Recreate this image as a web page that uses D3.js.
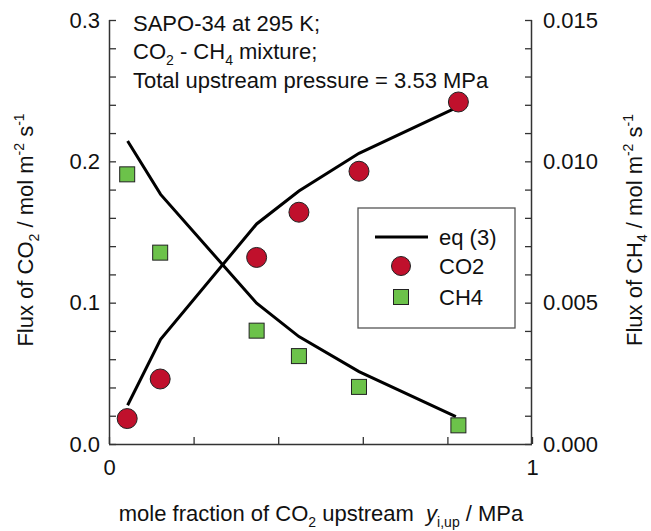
<!DOCTYPE html>
<html>
<head>
<meta charset="utf-8">
<script src="https://cdn.jsdelivr.net/npm/d3@7"></script>
<style>
  body { margin: 0; background: #fff; }
  text { font-family: "Liberation Sans", Arial, sans-serif; }
</style>
</head>
<body>
<div class="chart"></div>
<script>
// mole fraction of CO2 upstream (measured points)
var xData = [0.043, 0.121, 0.349, 0.449, 0.591, 0.826];
var co2Flux = [0.018, 0.046, 0.132, 0.164, 0.193, 0.242];
var ch4Flux = [0.00954, 0.00677, 0.00401, 0.00311, 0.00202, 0.00066];
// eq (3) curves
var xFit = [0.044, 0.122, 0.349, 0.449, 0.591, 0.82];
var co2Fit = [0.0274, 0.0741, 0.1557, 0.179, 0.2057, 0.2378];
var ch4Fit = [0.01072, 0.00883, 0.00498, 0.0038, 0.00256, 0.00097];

var xTicks = [0, 0.2, 0.4, 0.6, 0.8, 1];
var yLeftTicks = d3.range(0, 0.3001, 0.02);
var yRightTicks = d3.range(0, 0.01501, 0.001);
var legendLabels = ["eq (3)", "CO2", "CH4"];

var red = "#c0102c", green = "#6cc24a", axisColor = "#333";

var svg = d3.select(".chart").append("svg")
  .attr("width", 651).attr("height", 531);

var x = d3.scaleLinear().domain([0, 1]).range([109, 532]);
var yL = d3.scaleLinear().domain([0, 0.3]).range([444, 20]);
var yR = d3.scaleLinear().domain([0, 0.015]).range([444, 20]);

function near(v, step) { return Math.abs(v / step - Math.round(v / step)) < 1e-6; }

// axes
var gx = svg.append("g").attr("transform", "translate(0,444)")
  .call(d3.axisBottom(x).tickValues(xTicks).tickSize(-7).tickPadding(15)
    .tickFormat(d => (d === 0 || d === 1) ? d : ""));
var gl = svg.append("g").attr("transform", "translate(109,0)")
  .call(d3.axisLeft(yL).tickValues(yLeftTicks).tickSize(-7).tickPadding(9)
    .tickFormat(d => near(d, 0.1) ? d3.format(".1f")(d) : ""));
var gr = svg.append("g").attr("transform", "translate(532,0)")
  .call(d3.axisRight(yR).tickValues(yRightTicks).tickSize(-7).tickPadding(11)
    .tickFormat(d => near(d, 0.005) ? d3.format(".3f")(d) : ""));

[gx, gl, gr].forEach(function(g) {
  g.select(".domain").attr("stroke", axisColor).attr("stroke-width", 1.5);
  g.selectAll(".tick line").attr("stroke", axisColor).attr("stroke-width", 1.3);
  g.selectAll(".tick text").attr("font-size", 22).attr("fill", "#111")
    .attr("font-family", "Liberation Sans, Arial, sans-serif");
});
// plain axis lines, no top border
gx.select(".domain").attr("d", "M109,0.5H532");
gl.select(".domain").attr("d", "M0.5,20V444");
gr.select(".domain").attr("d", "M-0.5,20V444");

// fit lines
var lineL = d3.line().x((d, i) => x(xFit[i])).y(d => yL(d));
var lineR = d3.line().x((d, i) => x(xFit[i])).y(d => yR(d));
svg.append("path").attr("d", lineL(co2Fit)).attr("fill", "none")
  .attr("stroke", "#000").attr("stroke-width", 3);
svg.append("path").attr("d", lineR(ch4Fit)).attr("fill", "none")
  .attr("stroke", "#000").attr("stroke-width", 3);

// markers
svg.selectAll(".co2").data(co2Flux).enter().append("circle")
  .attr("cx", (d, i) => x(xData[i])).attr("cy", d => yL(d)).attr("r", 10)
  .attr("fill", red).attr("stroke", "#222").attr("stroke-width", 1);
svg.selectAll(".ch4").data(ch4Flux).enter().append("rect")
  .attr("x", (d, i) => x(xData[i]) - 7.5).attr("y", d => yR(d) - 7.5)
  .attr("width", 15).attr("height", 15)
  .attr("fill", green).attr("stroke", "#222").attr("stroke-width", 1);

// annotation
var ann = svg.append("text").attr("font-size", 22).attr("fill", "#111");
ann.append("tspan").attr("x", 133).attr("y", 31).text("SAPO-34 at 295 K;");
var l2 = ann.append("tspan").attr("x", 133).attr("y", 59);
l2.append("tspan").text("CO");
l2.append("tspan").attr("font-size", 14).attr("dy", 6).text("2");
l2.append("tspan").attr("dy", -6).text(" - CH");
l2.append("tspan").attr("font-size", 14).attr("dy", 6).text("4");
l2.append("tspan").attr("dy", -6).text(" mixture;");
ann.append("tspan").attr("x", 133).attr("y", 88).text("Total upstream pressure = 3.53 MPa");

// legend
svg.append("rect").attr("x", 358).attr("y", 208).attr("width", 157).attr("height", 120)
  .attr("fill", "#fff").attr("stroke", "#555").attr("stroke-width", 1.3);
svg.append("line").attr("x1", 375).attr("x2", 428).attr("y1", 237).attr("y2", 237)
  .attr("stroke", "#000").attr("stroke-width", 3);
svg.append("circle").attr("cx", 401).attr("cy", 266).attr("r", 9.5)
  .attr("fill", red).attr("stroke", "#222");
svg.append("rect").attr("x", 393.5).attr("y", 289.5).attr("width", 15).attr("height", 15)
  .attr("fill", green).attr("stroke", "#222");
[237, 266, 297].forEach(function(yy, i) {
  svg.append("text").attr("x", 439).attr("y", yy).attr("dy", "0.35em")
    .attr("font-size", 22).attr("fill", "#111").text(legendLabels[i]);
});

// axis titles
var tl = svg.append("text").attr("transform", "translate(33,230) rotate(-90)")
  .attr("text-anchor", "middle").attr("font-size", 22).attr("fill", "#111");
tl.append("tspan").text("Flux of CO");
tl.append("tspan").attr("font-size", 14).attr("dy", 6).text("2");
tl.append("tspan").attr("dy", -6).text(" / mol m");
tl.append("tspan").attr("font-size", 14).attr("dy", -9).text("-2");
tl.append("tspan").attr("dy", 9).text(" s");
tl.append("tspan").attr("font-size", 14).attr("dy", -9).text("-1");

var tr = svg.append("text").attr("transform", "translate(642,230) rotate(-90)")
  .attr("text-anchor", "middle").attr("font-size", 22).attr("fill", "#111");
tr.append("tspan").text("Flux of CH");
tr.append("tspan").attr("font-size", 14).attr("dy", 5).text("4");
tr.append("tspan").attr("dy", -5).text(" / mol m");
tr.append("tspan").attr("font-size", 14).attr("dy", -9).text("-2");
tr.append("tspan").attr("dy", 9).text(" s");
tr.append("tspan").attr("font-size", 14).attr("dy", -9).text("-1");

var tb = svg.append("text").attr("x", 321).attr("y", 521)
  .attr("text-anchor", "middle").attr("font-size", 22).attr("fill", "#111")
  .attr("xml:space", "preserve");
tb.append("tspan").text("mole fraction of CO");
tb.append("tspan").attr("font-size", 14).attr("dy", 6).text("2");
tb.append("tspan").attr("dy", -6).text(" upstream\u00a0\u00a0");
tb.append("tspan").attr("font-style", "italic").text("y");
tb.append("tspan").attr("font-size", 14).attr("dy", 6).text("i,up");
tb.append("tspan").attr("dy", -6).text(" / MPa");
</script>
</body>
</html>
